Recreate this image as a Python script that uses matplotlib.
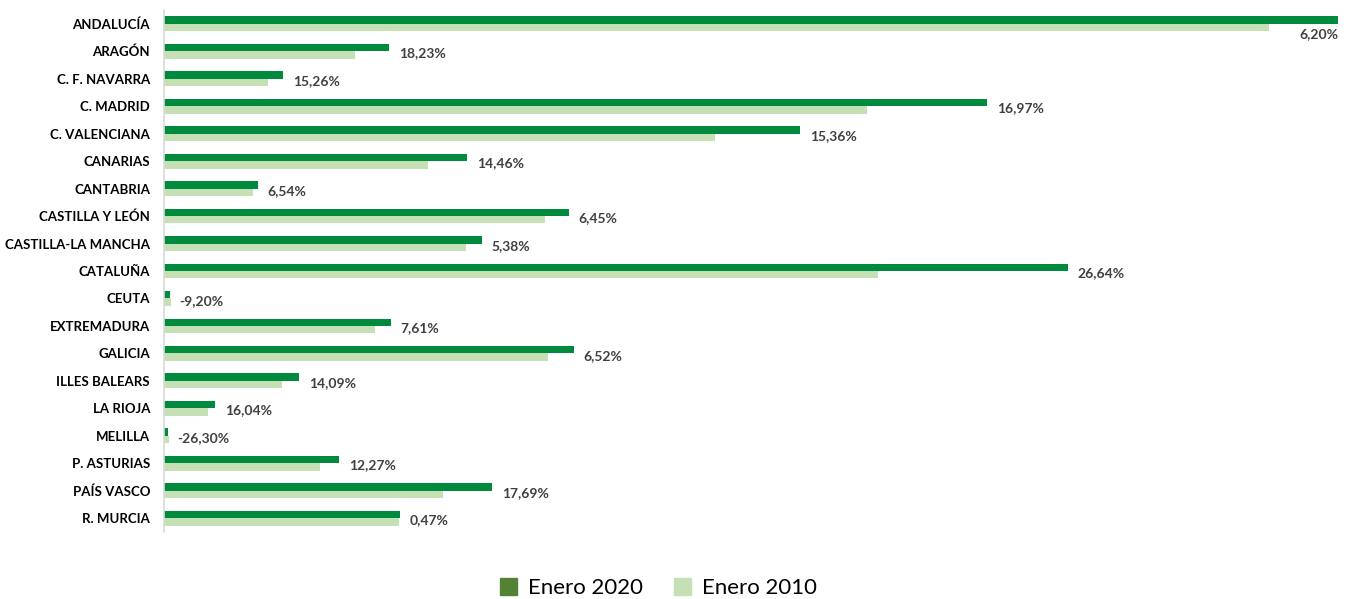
import numpy as np
import matplotlib.pyplot as plt
from matplotlib.patches import Patch

# ---------- DATA ----------
regions = ['ANDALUCÍA', 'ARAGÓN', 'C. F. NAVARRA', 'C. MADRID', 'C. VALENCIANA',
           'CANARIAS', 'CANTABRIA', 'CASTILLA Y LEÓN', 'CASTILLA-LA MANCHA',
           'CATALUÑA', 'CEUTA', 'EXTREMADURA', 'GALICIA', 'ILLES BALEARS',
           'LA RIOJA', 'MELILLA', 'P. ASTURIAS', 'PAÍS VASCO', 'R. MURCIA']

enero_2020 = [1174, 225, 119, 823, 636, 303, 94, 405, 318, 904,
              6.0, 227, 410, 135, 51, 4.0, 175, 328, 236]
enero_2010 = [1105, 191, 104, 703, 551, 264, 89, 381, 302, 714,
              6.6, 211, 384, 118, 44, 5.4, 156, 279, 235]

growth = ['6,20%', '18,23%', '15,26%', '16,97%', '15,36%', '14,46%', '6,54%',
          '6,45%', '5,38%', '26,64%', '-9,20%', '7,61%', '6,52%', '14,09%',
          '16,04%', '-26,30%', '12,27%', '17,69%', '0,47%']

# ---------- STYLE ----------
dark = '#008A3E'
light = '#C5E0B4'
legend_dark = '#548235'
plt.rcParams['font.family'] = ['Lato', 'DejaVu Sans']

fig = plt.figure(figsize=(13.52, 5.99), dpi=100)
ax = fig.add_axes([164 / 1352, 1 - 532 / 599, (1338 - 164) / 1352, 522 / 599])

y = np.arange(len(regions))
h = 0.27
ax.barh(y - h / 2, enero_2020, height=h, color=dark)
ax.barh(y + h / 2, enero_2010, height=h, color=light)

ax.set_ylim(len(regions) - 0.5, -0.5)
ax.set_xlim(0, max(enero_2020))

ax.set_yticks(y)
ax.set_yticklabels(regions, fontsize=9.5, fontweight='bold', color='#000000')
ax.tick_params(axis='y', length=0, pad=10)
ax.set_xticks([])

for s in ['top', 'right', 'bottom']:
    ax.spines[s].set_visible(False)
ax.spines['left'].set_color('#D9D9D9')
ax.spines['left'].set_linewidth(1.2)

# data labels
for i, (v, lab) in enumerate(zip(enero_2020, growth)):
    if v >= max(enero_2020) * 0.98:
        ax.annotate(lab, (v, i + 0.37), xytext=(0, 0), textcoords='offset points',
                    ha='right', va='center', fontsize=10, fontweight='bold',
                    color='#404040')
    else:
        ax.annotate(lab, (v, i + 0.08), xytext=(7, 0), textcoords='offset points',
                    ha='left', va='center', fontsize=10, fontweight='bold',
                    color='#404040', annotation_clip=False)

handles = [Patch(color=legend_dark, label='Enero 2020'),
           Patch(color=light, label='Enero 2010')]
fig.legend(handles=handles, loc='center', bbox_to_anchor=(0.487, 0.018),
           ncol=2, frameon=False, fontsize=16, handlelength=0.75,
           handleheight=0.75, columnspacing=1.4, handletextpad=0.5)

plt.savefig('out.png', dpi=100)
